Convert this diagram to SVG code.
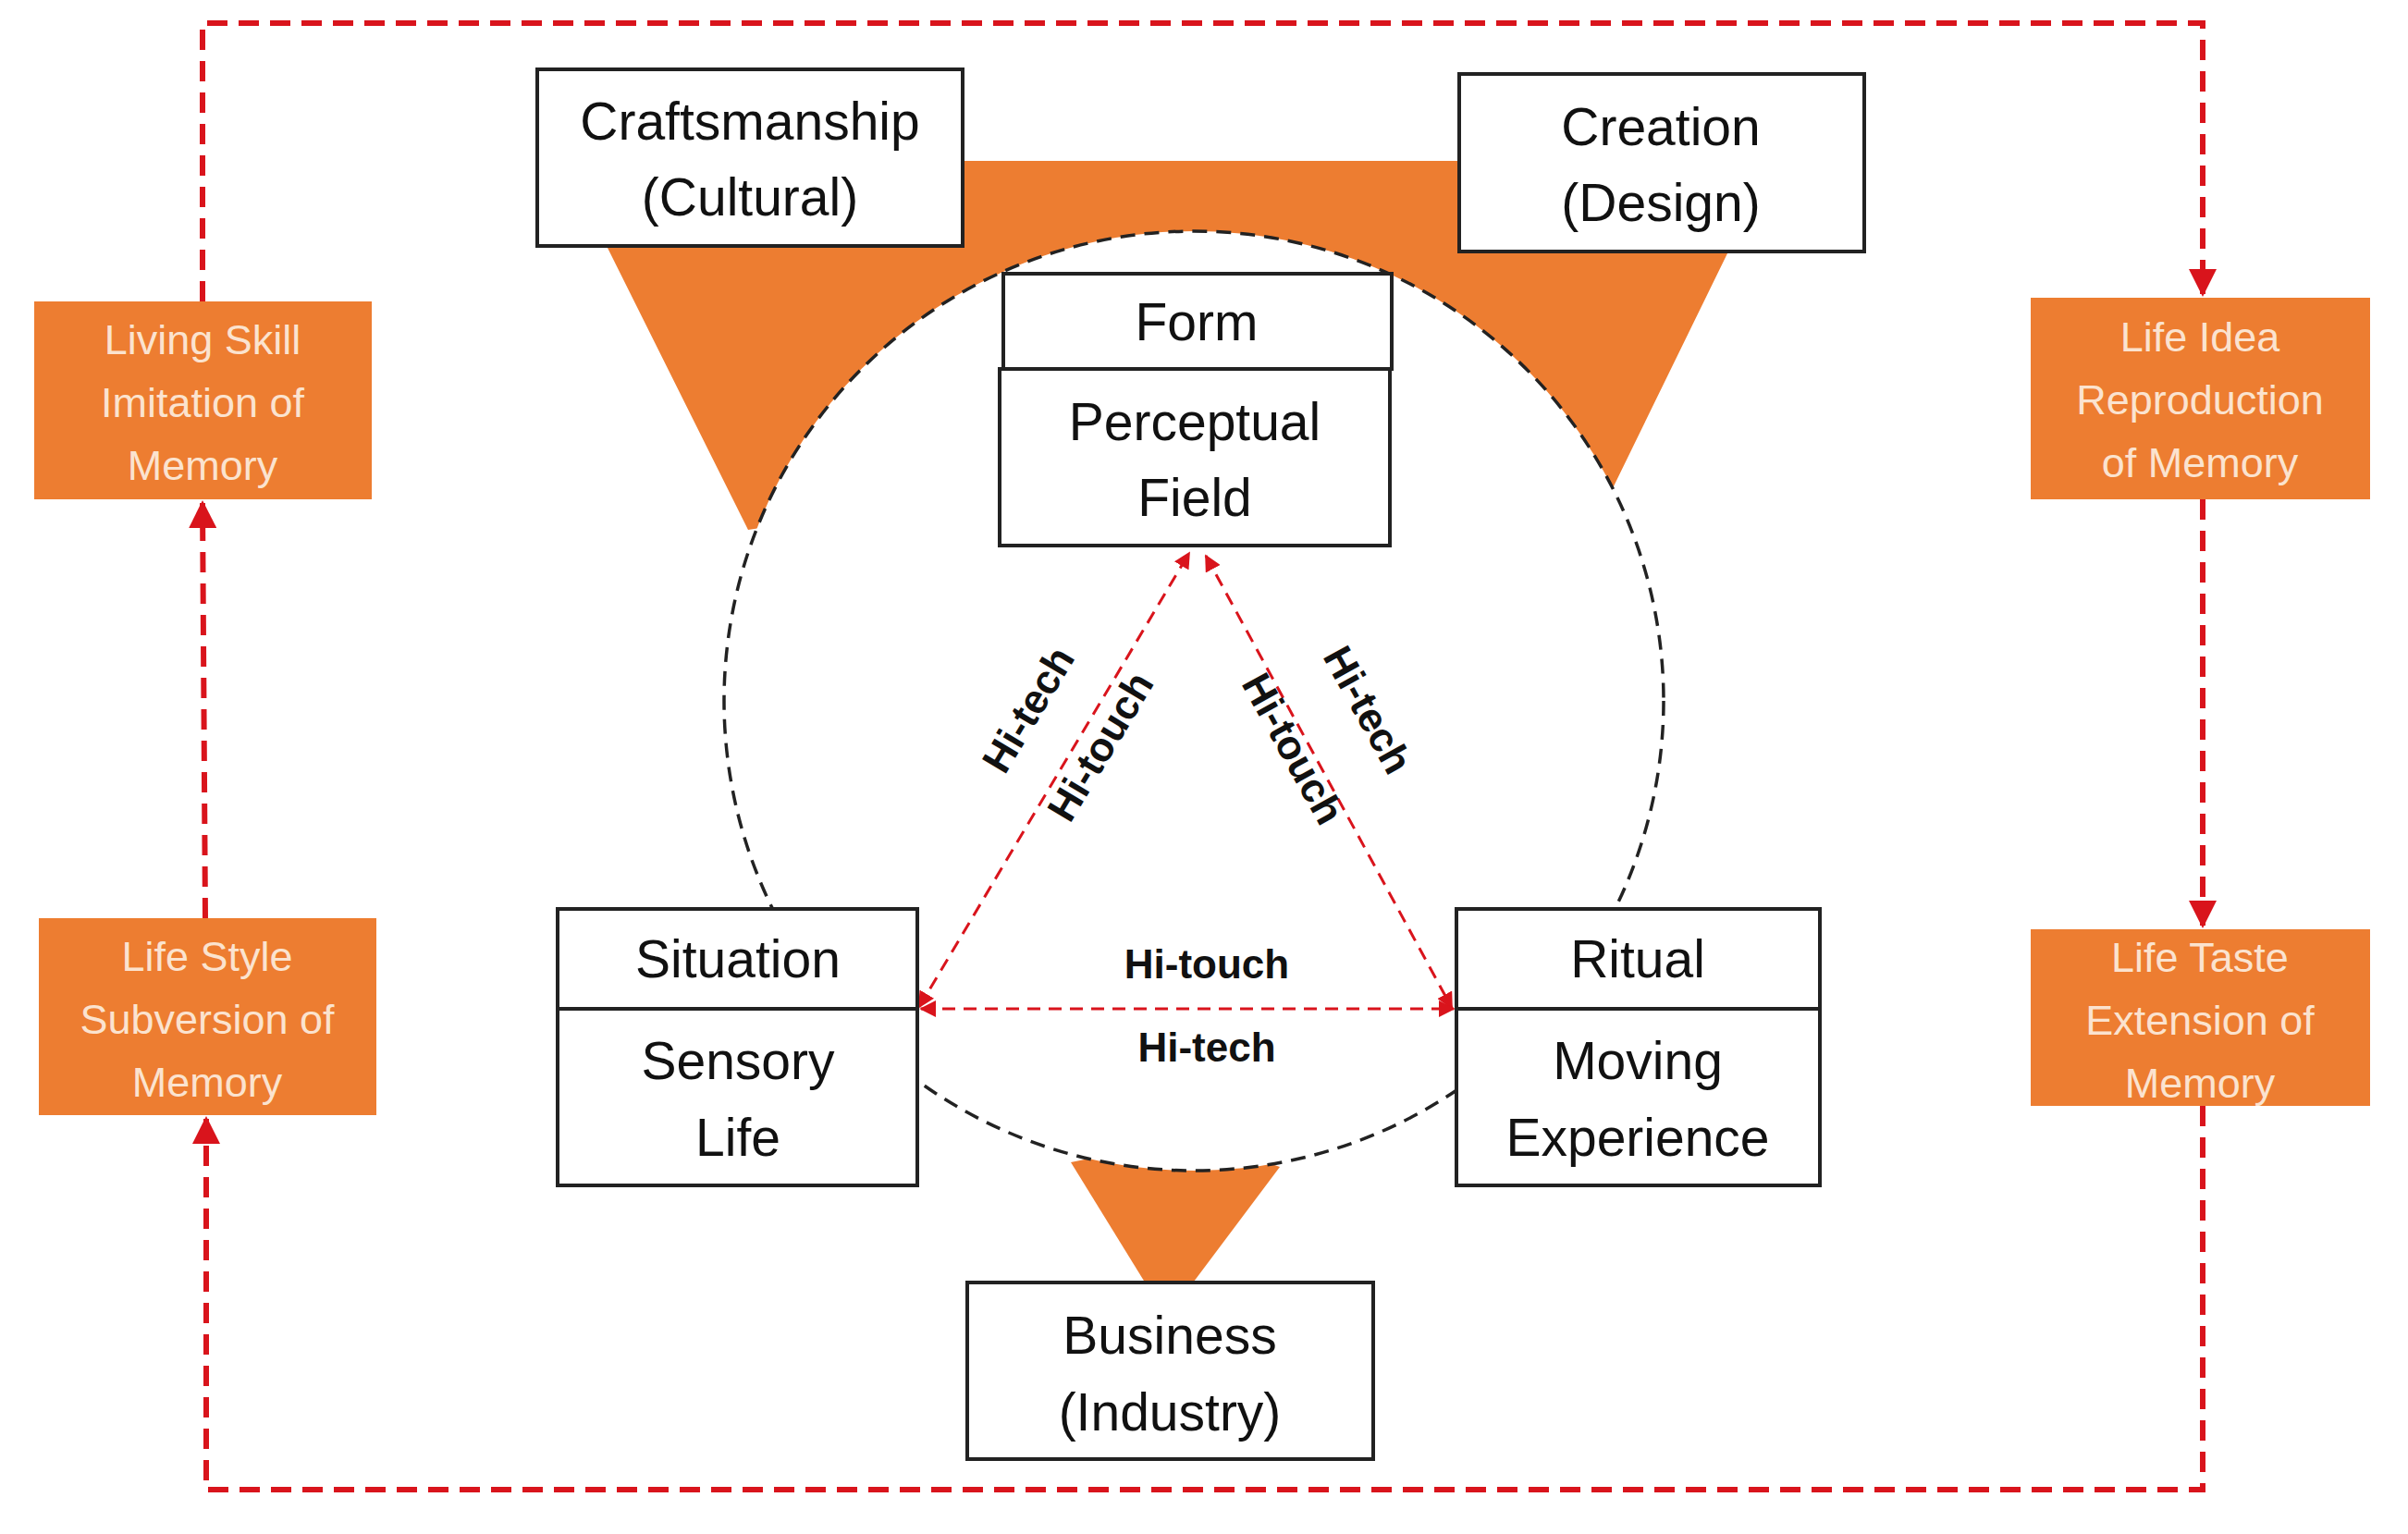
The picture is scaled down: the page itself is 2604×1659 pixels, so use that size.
<svg xmlns="http://www.w3.org/2000/svg" width="2604" height="1659" viewBox="0 0 2604 1659">
<style>
.box{fill:#fff;stroke:#222;stroke-width:4}
.ob{fill:#ED7D31}
.t{font-family:"Liberation Sans",Arial,sans-serif;font-size:57px;fill:#111;text-anchor:middle}
.ot{font-family:"Liberation Sans",Arial,sans-serif;font-size:45px;fill:#fbe3cf;text-anchor:middle}
.lb{font-family:"Liberation Sans",Arial,sans-serif;font-size:44px;font-weight:bold;fill:#111;text-anchor:middle}
.big{fill:none;stroke:#d9141c;stroke-width:6;stroke-dasharray:22 12}
.small{fill:none;stroke:#d9141c;stroke-width:3;stroke-dasharray:14 9}
</style>
<defs>
<marker id="ah" viewBox="0 0 10 10" refX="9" refY="5" markerWidth="5" markerHeight="5" orient="auto-start-reverse"><path d="M0,0L10,5L0,10z" fill="#d9141c"/></marker>
<marker id="as" viewBox="0 0 10 10" refX="9" refY="5" markerWidth="6" markerHeight="6" orient="auto-start-reverse"><path d="M0,0L10,5L0,10z" fill="#d9141c"/></marker>
</defs>
<rect width="2604" height="1659" fill="#fff"/>
<g id="shapes">
<polygon fill="#ED7D31" points="656,266 809,573 1291,500 1744,528 1869,272 1578,272 1578,174 1041,174 1041,266"/>
<polygon fill="#ED7D31" points="1158,1257 1291,1230 1384,1262 1288,1390 1240,1390"/>
<circle cx="1291" cy="758" r="508" fill="#fff" stroke="#222" stroke-width="3.5" stroke-dasharray="16 10"/>
</g>
<g id="connectors">
<polyline class="big" points="219,326 219,25 2382,25 2382,318" marker-end="url(#ah)"/>
<line class="big" x1="2382" y1="540" x2="2382" y2="1001" marker-end="url(#ah)"/>
<polyline class="big" points="2382,1196 2382,1611 223,1611 223,1210" marker-end="url(#ah)"/>
<line class="big" x1="222" y1="993" x2="219" y2="544" marker-end="url(#ah)"/>
<line class="small" x1="994" y1="1089" x2="1286" y2="598" marker-start="url(#as)" marker-end="url(#as)"/>
<line class="small" x1="1304" y1="601" x2="1570" y2="1090" marker-start="url(#as)" marker-end="url(#as)"/>
<line class="small" x1="996" y1="1091" x2="1572" y2="1091" marker-start="url(#as)" marker-end="url(#as)"/>
</g>
<g id="labels">
<text class="lb" transform="translate(1125,775) rotate(-59)">Hi-tech</text>
<text class="lb" transform="translate(1203,815) rotate(-59)">Hi-touch</text>
<text class="lb" transform="translate(1466,775) rotate(61)">Hi-tech</text>
<text class="lb" transform="translate(1385,817) rotate(61)">Hi-touch</text>
<text class="lb" x="1305" y="1058">Hi-touch</text>
<text class="lb" x="1305" y="1148">Hi-tech</text>
</g>
<g id="craftsmanship"><rect class="box" x="581" y="75" width="460" height="191"/><text class="t" x="811" y="151">Craftsmanship</text><text class="t" x="811" y="233">(Cultural)</text></g>
<g id="creation"><rect class="box" x="1578" y="80" width="438" height="192"/><text class="t" x="1796" y="157">Creation</text><text class="t" x="1796" y="239">(Design)</text></g>
<g id="form"><rect class="box" x="1085" y="296" width="420" height="103"/><text class="t" x="1294" y="368">Form</text></g>
<g id="perceptual"><rect class="box" x="1081" y="399" width="422" height="191"/><text class="t" x="1292" y="476">Perceptual</text><text class="t" x="1292" y="558">Field</text></g>
<g id="situation"><rect class="box" x="603" y="983" width="389" height="108"/><text class="t" x="798" y="1057">Situation</text></g>
<g id="sensory"><rect class="box" x="603" y="1091" width="389" height="191"/><text class="t" x="798" y="1167">Sensory</text><text class="t" x="798" y="1250">Life</text></g>
<g id="ritual"><rect class="box" x="1575" y="983" width="393" height="108"/><text class="t" x="1771" y="1057">Ritual</text></g>
<g id="moving"><rect class="box" x="1575" y="1091" width="393" height="191"/><text class="t" x="1771" y="1167">Moving</text><text class="t" x="1771" y="1250">Experience</text></g>
<g id="business"><rect class="box" x="1046" y="1387" width="439" height="191"/><text class="t" x="1265" y="1464">Business</text><text class="t" x="1265" y="1547">(Industry)</text></g>
<g id="living"><rect class="ob" x="37" y="326" width="365" height="214"/><text class="ot" x="219" y="383">Living Skill</text><text class="ot" x="219" y="451">Imitation of</text><text class="ot" x="219" y="519">Memory</text></g>
<g id="lifestyle"><rect class="ob" x="42" y="993" width="365" height="213"/><text class="ot" x="224" y="1050">Life Style</text><text class="ot" x="224" y="1118">Subversion of</text><text class="ot" x="224" y="1186">Memory</text></g>
<g id="lifeidea"><rect class="ob" x="2196" y="322" width="367" height="218"/><text class="ot" x="2379" y="380">Life Idea</text><text class="ot" x="2379" y="448">Reproduction</text><text class="ot" x="2379" y="516">of Memory</text></g>
<g id="lifetaste"><rect class="ob" x="2196" y="1005" width="367" height="191"/><text class="ot" x="2379" y="1051">Life Taste</text><text class="ot" x="2379" y="1119">Extension of</text><text class="ot" x="2379" y="1187">Memory</text></g>
</svg>
